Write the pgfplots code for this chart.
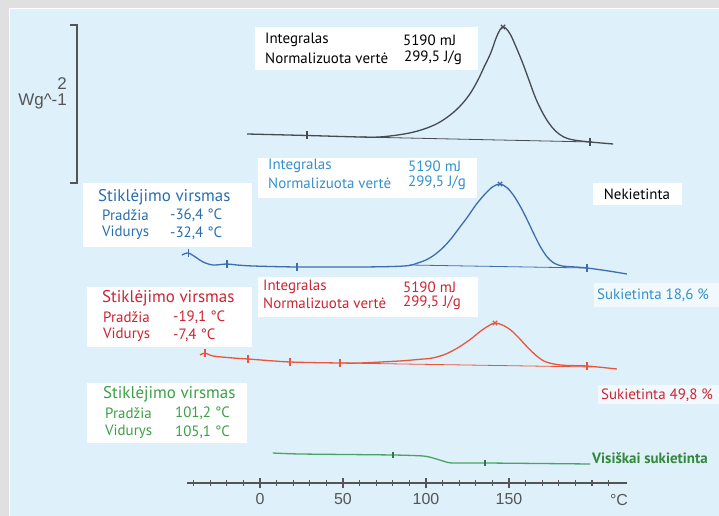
\documentclass[border=0pt]{standalone}
\usepackage{pgfplots}
\pgfplotsset{compat=1.18}
\usepackage{fontspec}
\setmainfont{PT Sans}
\newfontfamily\arialf{Liberation Sans}

\definecolor{bg}{RGB}{222,240,250}
\definecolor{framegray}{RGB}{224,224,224}
\definecolor{curveK}{RGB}{70,75,80}
\definecolor{curveB}{RGB}{60,110,175}
\definecolor{textB}{RGB}{40,110,175}
\definecolor{textBl}{RGB}{50,145,205}
\definecolor{curveR}{RGB}{235,85,60}
\definecolor{textR}{RGB}{205,35,50}
\definecolor{curveG}{RGB}{70,165,100}
\definecolor{textG}{RGB}{60,160,70}
\definecolor{axgray}{RGB}{85,85,85}

\begin{document}
\begin{tikzpicture}
\path[use as bounding box] (0,0) rectangle (719bp,516bp);
\fill[framegray] (0,0) rectangle (719bp,516bp);
\fill[bg] (9bp,0) rectangle (719bp,507bp);
\draw[white, line width=1bp] (9bp,0) -- (9bp,507bp) -- (719bp,507bp);

% curves: x in deg C, y = offset in px from bottom
\begin{axis}[at={(0,0)}, anchor=south west, width=719bp, height=516bp,
  scale only axis, xmin=-156.6, xmax=276.5, ymin=0, ymax=516,
  axis lines=none, clip=false,
  every axis plot/.append style={line width=1.3bp}]
% Nekietinta
\addplot[curveK, smooth, tension=0.6] coordinates {
  (-7.8,382) (28.3,380.5) (60.2,379) (72,379) (85,381.5) (95,385) (105,391)
  (113,399) (120,409) (126,421) (131,435) (135,449) (139,463) (142,477)
  (144.5,486) (146.4,489) (148.5,487) (151,481) (154,470) (158,454) (162,436)
  (166,418) (170,404) (174,393) (178,385) (183,379) (189,376) (199,374) (212.7,372)};
\addplot[curveK, line width=0.8bp] coordinates {(60,379) (200,374)};
\addplot[curveK, only marks, mark=|, mark size=4bp] coordinates {(28.3,380.5) (198.8,374)};
\addplot[curveK, only marks, mark=x, mark size=3bp] coordinates {(146.4,489)};
% Sukietinta 18,6 %
\addplot[curveB, smooth, tension=0.5] coordinates {
  (-47.0,261) (-43.2,263) (-38,258) (-34.3,254) (-28.3,251) (-19.9,252) (-13.9,251)
  (-4.2,250) (22.3,249) (60.2,249) (80,249.5) (90,250.5) (95,253) (100,256)
  (105,261) (110,268) (115,277) (120,288) (125,299) (130,311) (135,321)
  (140,329) (144.6,332) (149,328) (153,320) (157,309) (161,296) (165,282)
  (169,269) (173,259) (177,253) (182,250) (190,249) (197,248) (210,245) (221,242)};
\addplot[curveB, line width=0.8bp] coordinates {(90,251) (197,248)};
\addplot[curveB, only marks, mark=|, mark size=4bp] coordinates {(-43.2,263) (-19.9,252) (22.3,249) (197,248)};
\addplot[curveB, only marks, mark=x, mark size=3bp] coordinates {(144.6,332)};
% Sukietinta 49,8 %
\addplot[curveR, smooth, tension=0.5] coordinates {
  (-36.1,161) (-33.1,163) (-28.3,160) (-16.3,158) (-7.2,157) (18.1,154) (48.2,153)
  (60.2,153) (84,155) (95,156.5) (104,158) (112,162) (120,169) (127,177)
  (133,185) (138,190.5) (141.6,193) (146,191) (151,186) (156,178) (161,169)
  (166,161) (171,155) (177,152) (185,150.5) (197,150) (215,147)};
\addplot[curveR, line width=0.8bp] coordinates {(48,153) (200,149)};
\addplot[curveR, only marks, mark=|, mark size=4bp] coordinates {(-33.1,163) (-7.2,157) (18.1,154) (48.2,153) (197,150)};
\addplot[curveR, only marks, mark=x, mark size=3bp] coordinates {(141.6,193)};
% Visiskai sukietinta
\addplot[curveG, smooth, tension=0.4] coordinates {
  (7.8,63) (24.1,62) (80.1,61) (98.2,60) (104.2,58) (110.2,55) (115.7,53)
  (135.5,53) (198.8,52)};
\addplot[curveG!70!black, only marks, mark=|, mark size=3bp] coordinates {(80.1,61) (135.5,53)};
\end{axis}

% temperature scale
\begin{axis}[at={(187bp,33bp)}, anchor=south west, width=440bp, height=20bp,
  scale only axis, xmin=-43.95, xmax=221.1, ymin=0, ymax=1,
  axis x line=bottom, axis y line=none, ytick=\empty,
  x axis line style={-, axgray, line width=1.3bp},
  xtick={-40,-30,...,210}, xticklabels={},
  tick align=center, major tick length=6bp,
  every tick/.style={axgray, line width=1.2bp},
  extra x ticks={0,50,100,150},
  extra x tick labels={0,50,100,150},
  extra x tick style={major tick length=10bp,
    xticklabel style={font=\arialf\fontsize{16}{18}\selectfont, text=axgray, yshift=-2bp}},
  /pgf/number format/assume math mode=true]
\end{axis}

\begin{scope}[x=1bp, y=-1bp, shift={(0,516bp)}, every node/.style={inner sep=0pt}]
\fontsize{15}{17}\selectfont
% scale bar
\draw[axgray, line width=1.8bp] (70,25) -- (77,25) -- (77,183) -- (70,183);
\node[anchor=east, text=axgray, font=\arialf\fontsize{17}{19}\selectfont] at (67,84) {2};
\node[anchor=east, text=axgray, font=\arialf\fontsize{17}{19}\selectfont] at (67,101.5) {Wg\^{}-1};
\node[anchor=center, text=axgray, font=\arialf\fontsize{16}{18}\selectfont] at (619,500) {°C};

% black box
\fill[white] (255,27) rectangle (478,70);
\node[anchor=west] at (265,40) {Integralas};
\node[anchor=west] at (403,40) {5190 mJ};
\node[anchor=west] at (265,58) {Normalizuota vertė};
\node[anchor=west] at (404,58) {299,5 J/g};

% blue integral box
\fill[white] (258,158) rectangle (477,198);
\begin{scope}[every node/.append style={text=textBl}]
\node[anchor=west] at (268,166) {Integralas};
\node[anchor=west] at (408,166) {5190 mJ};
\node[anchor=west] at (268,183) {Normalizuota vertė};
\node[anchor=west] at (408,183) {299,5 J/g};
\end{scope}

\fill[white] (593,183) rectangle (682,205);
\node at (637,194) {Nekietinta};

% blue glass transition
\fill[white] (83,183) rectangle (252,247);
\begin{scope}[every node/.append style={text=textB}]
\node[anchor=west, font=\fontsize{17}{19}\selectfont] at (98,197) {Stiklėjimo virsmas};
\node[anchor=west] at (102,215) {Pradžia};
\node[anchor=west] at (170,215) {-36,4 °C};
\node[anchor=west] at (102,233) {Vidurys};
\node[anchor=west] at (170,233) {-32,4 °C};
\end{scope}

\fill[white, opacity=0.6] (594,283) rectangle (719,307);
\node[anchor=west, text=textBl] at (597,295) {Sukietinta 18,6 \%};

% red integral box
\fill[white] (258,277) rectangle (478,317);
\begin{scope}[every node/.append style={text=textR}]
\node[anchor=west] at (263,287) {Integralas};
\node[anchor=west] at (403,287) {5190 mJ};
\node[anchor=west] at (263,303) {Normalizuota vertė};
\node[anchor=west] at (403,303) {299,5 J/g};
\end{scope}

% red glass transition
\fill[white] (87,287) rectangle (252,347);
\begin{scope}[every node/.append style={text=textR}]
\node[anchor=west, font=\fontsize{17}{19}\selectfont] at (102,298) {Stiklėjimo virsmas};
\node[anchor=west] at (103,317) {Pradžia};
\node[anchor=west] at (173,317) {-19,1 °C};
\node[anchor=west] at (103,335) {Vidurys};
\node[anchor=west] at (173,335) {-7,4 °C};
\end{scope}

\fill[white, opacity=0.6] (598,385) rectangle (719,404);
\node[anchor=west, text=textR] at (601,395) {Sukietinta 49,8 \%};

% green glass transition
\fill[white] (87,383) rectangle (247,443);
\begin{scope}[every node/.append style={text=textG}]
\node[anchor=west, font=\fontsize{17}{19}\selectfont] at (103,394) {Stiklėjimo virsmas};
\node[anchor=west] at (105,413) {Pradžia};
\node[anchor=west] at (175,413) {101,2 °C};
\node[anchor=west] at (105,432) {Vidurys};
\node[anchor=west] at (175,432) {105,1 °C};
\end{scope}

\node[anchor=west, text=textG!85!black, font=\bfseries\fontsize{15}{17}\selectfont] at (592,458) {Visiškai sukietinta};
\end{scope}
\end{tikzpicture}
\end{document}
